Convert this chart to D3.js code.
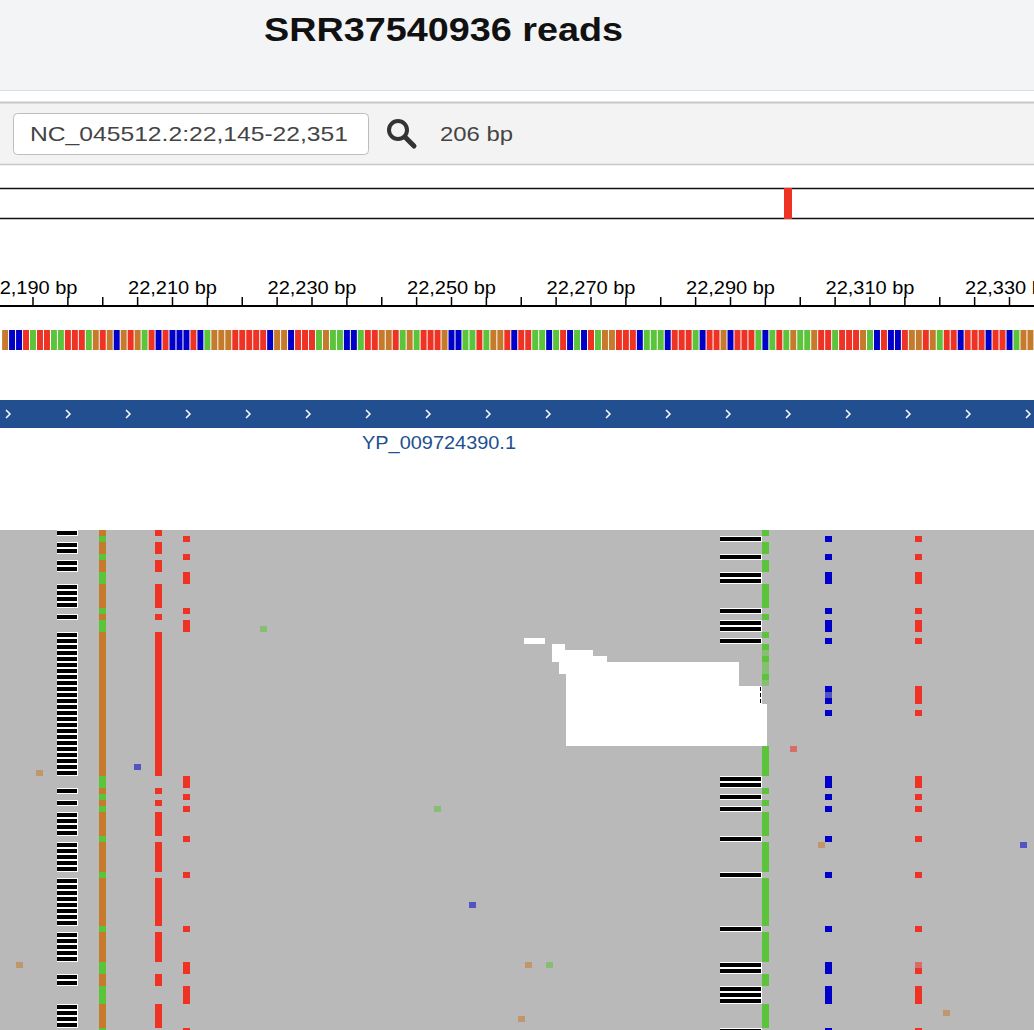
<!DOCTYPE html>
<html><head><meta charset="utf-8">
<script src="https://cdn.jsdelivr.net/npm/d3@7"></script>
<style>body{margin:0;background:#fff;overflow:hidden}svg{display:block;font-family:"Liberation Sans",Arial,sans-serif}</style>
</head><body>
<script>
const title = "SRR37540936 reads";
const locus = "NC_045512.2:22,145-22,351";
const spanText = "206 bp";
const geneName = "YP_009724390.1";
const seqStart = 22186;
const sequence = "GCCTATTAATTTAGTGCGTGATCTCCCTCAGGGTTTT" + "TCGGCTTTAGAACCATTGGTAGATTTGCCAATAGGTC" +
                 "TTAACATCACTAGGTTTCAAACTTTACTTGCTTTACA" + "TAGAAGTTATTTGACTCCTGGTGATTCTTTCTTCAGGT";
const tickLabels = [22190, 22210, 22230, 22250, 22270, 22290, 22310, 22330];
const leftHap  = "ABAABAABB"+"AAAABABB"+"AAAAAAAAAAAAAAAAAAAAAAAA"+"BBABAB"+"AAAAB"+"AAAAAB"+"AAAAAAAAB"+"AAAAABB"+"AABBB"+"AAAAB";
const rightHap = "ABAABAABB"+"AAAABABB"+"ABAAAAAAABBB-B-----AAAAA"+"BBABAB"+"AAAAB"+"AAAAAB"+"AAAAAAAAB"+"AAAAABB"+"AABBB"+"AAAAB";
// haplotype variants: [fromPos, toPos, type] ; type "DEL" = deletion
const hapLeftA  = [[22194,22196,"DEL"],[22200,22200,"G"],[22208,22208,"T"]];
const hapLeftB  = [[22200,22200,"A"],[22212,22212,"T"]];
const hapRightA = [[22295,22295,"A"]];
const hapRightB = [[22289,22294,"DEL"],[22304,22304,"C"],[22317,22317,"T"]];
const paleHapBases = [[20,22295],[22,22295],[23,22295],[25,22295],[27,22304],[72,22317]];
const scattered = [[40,22191,"G"],[39,22205,"C"],[16,22223,"A"],[46,22248,"A"],[62,22253,"C"],[72,22188,"G"],
  [72,22261,"G"],[72,22264,"A"],[81,22260,"G"],[36,22299,"T"],[52,22303,"G"],[52,22332,"C"],[80,22321,"G"]];
const gaps = [[18,22260.4,22263.4],[19,22264.4,22266.3],[20,22264.4,22270.3],[21,22264.4,22272.3],
  [22,22265.4,22291.2],[23,22265.4,22291.2],[24,22266.4,22291.2],[25,22266.4,22291.2],
  [26,22266.4,22294.2],[27,22266.4,22294.2],[28,22266.4,22294.2],
  [29,22266.4,22295.3],[30,22266.4,22295.3],[31,22266.4,22295.3],[32,22266.4,22295.3],[33,22266.4,22295.3],[34,22266.4,22295.3],[35,22266.4,22295.3]];

const W = 1034, H = 1030;
const colors = {A:"#5cc43b", T:"#ee3224", C:"#0000c8", G:"#c67a2c"};
const x = d3.scaleLinear().domain([22210, 22290]).range([172.5, 730.5]);
const bw = x(1) - x(0);
const svg = d3.select("body").append("svg").attr("width", W).attr("height", H);

svg.append("rect").attr("width", W).attr("height", 90).attr("fill", "#f3f4f6");
svg.append("text").attr("x", 264).attr("y", 41).attr("font-size", 34).attr("font-weight","bold").attr("fill","#111")
  .attr("textLength",359).attr("lengthAdjust","spacingAndGlyphs").text(title);
svg.append("line").attr("x1",0).attr("x2",W).attr("y1",90.5).attr("y2",90.5).attr("stroke","#dcdcdc");
svg.append("rect").attr("y",102).attr("width",W).attr("height",63).attr("fill","#f3f3f3");
svg.append("line").attr("x1",0).attr("x2",W).attr("y1",102.5).attr("y2",102.5).attr("stroke","#c8c8c8").attr("stroke-width",2);
svg.append("line").attr("x1",0).attr("x2",W).attr("y1",164.5).attr("y2",164.5).attr("stroke","#c8c8c8").attr("stroke-width",1.5);
svg.append("rect").attr("x",13.5).attr("y",113.5).attr("width",355).attr("height",41).attr("rx",4).attr("fill","#fff").attr("stroke","#bdbdbd");
svg.append("text").attr("x",30).attr("y",141).attr("font-size",21).attr("fill","#444")
  .attr("textLength",318).attr("lengthAdjust","spacingAndGlyphs").text(locus);
const mg = svg.append("g").attr("transform","translate(400,133)");
mg.append("circle").attr("cx",-2).attr("cy",-3).attr("r",9).attr("fill","none").attr("stroke","#333").attr("stroke-width",4);
mg.append("line").attr("x1",5).attr("y1",4).attr("x2",14).attr("y2",13).attr("stroke","#333").attr("stroke-width",5).attr("stroke-linecap","round");
svg.append("text").attr("x",440).attr("y",141).attr("font-size",21).attr("fill","#444")
  .attr("textLength",73).attr("lengthAdjust","spacingAndGlyphs").text(spanText);

svg.append("rect").attr("x",-2).attr("y",188.5).attr("width",W+4).attr("height",30).attr("fill","#fff").attr("stroke","#111").attr("stroke-width",1.5);
svg.append("rect").attr("x",784).attr("y",188).attr("width",8).attr("height",31).attr("fill","#ee3224");

const ticks = d3.range(22185, 22340, 5);
svg.append("line").attr("x1",0).attr("x2",W).attr("y1",306).attr("y2",306).attr("stroke","#000").attr("stroke-width",2);
svg.selectAll(".tk").data(ticks).join("line").attr("x1",d=>x(d)).attr("x2",d=>x(d)).attr("y1",297).attr("y2",306).attr("stroke","#000").attr("stroke-width",1.5);
svg.selectAll(".tl").data(tickLabels).join("text").attr("x",d=>x(d)-44.5).attr("y",294).attr("font-size",18).attr("fill","#000")
  .attr("textLength",89).attr("lengthAdjust","spacingAndGlyphs").text(d=>d3.format(",")(d)+" bp");

const bases = sequence.split("").map((b,i)=>({b, p: seqStart+i}));
svg.selectAll(".seq").data(bases).join("rect").attr("x",d=>x(d.p-0.5)+0.5).attr("y",330).attr("width",bw-1).attr("height",20).attr("fill",d=>colors[d.b]);

svg.append("rect").attr("x",0).attr("y",400).attr("width",W).attr("height",28).attr("fill","#214f8f");
const chev = d3.range(8, W, 60);
svg.selectAll(".ch").data(chev).join("path").attr("d",d=>`M${d-2},${410} L${d+2},${414} L${d-2},${418}`).attr("fill","none").attr("stroke","#fff").attr("stroke-width",1.5);
svg.append("text").attr("x",362).attr("y",449).attr("font-size",18).attr("fill","#214f8f")
  .attr("textLength",154).attr("lengthAdjust","spacingAndGlyphs").text(geneName);

const readTop = 530, rh = 6, nRows = leftHap.length;
const ry = r => readTop + r*rh;
svg.append("rect").attr("x",0).attr("y",readTop).attr("width",W).attr("height",H-readTop).attr("fill","#b9b9b9");
const marks = [];
const paleSet = new Set(paleHapBases.map(d=>d[0]+":"+d[1]));
for (let r=0;r<nRows;r++){
  const L = leftHap[r]==="A"?hapLeftA:hapLeftB;
  L.forEach(([a,b,t])=>marks.push({r,a,b,t,pale:paleSet.has(r+":"+a)}));
  const rc = rightHap[r];
  if (rc!=="-") (rc==="A"?hapRightA:hapRightB).forEach(([a,b,t])=>marks.push({r,a,b,t,pale:paleSet.has(r+":"+a)}));
}
scattered.forEach(([r,p,t])=>marks.push({r,a:p,b:p,t,pale:true}));
const g = svg.append("g").attr("shape-rendering","crispEdges");
marks.filter(d=>d.t==="DEL").forEach(d=>{
  const x0 = Math.round(x(d.a-0.5)), x1 = Math.round(x(d.b+0.5));
  g.append("rect").attr("x",x0).attr("y",ry(d.r)).attr("width",x1-x0).attr("height",rh).attr("fill","#fff");
  g.append("rect").attr("x",x0).attr("y",ry(d.r)+0.5).attr("width",x1-x0-1).attr("height",4.5).attr("fill","#000");
});
marks.filter(d=>d.t!=="DEL").forEach(d=>{
  g.append("rect").attr("x",x(d.a-0.5)).attr("y",ry(d.r)).attr("width",bw).attr("height",rh)
   .attr("fill",colors[d.t]).attr("opacity",d.pale?0.55:1);
});
gaps.forEach(([r,a,b])=>g.append("rect").attr("x",x(a)).attr("y",ry(r)).attr("width",x(b)-x(a)).attr("height",rh).attr("fill","#fff"));
</script>
</body></html>
